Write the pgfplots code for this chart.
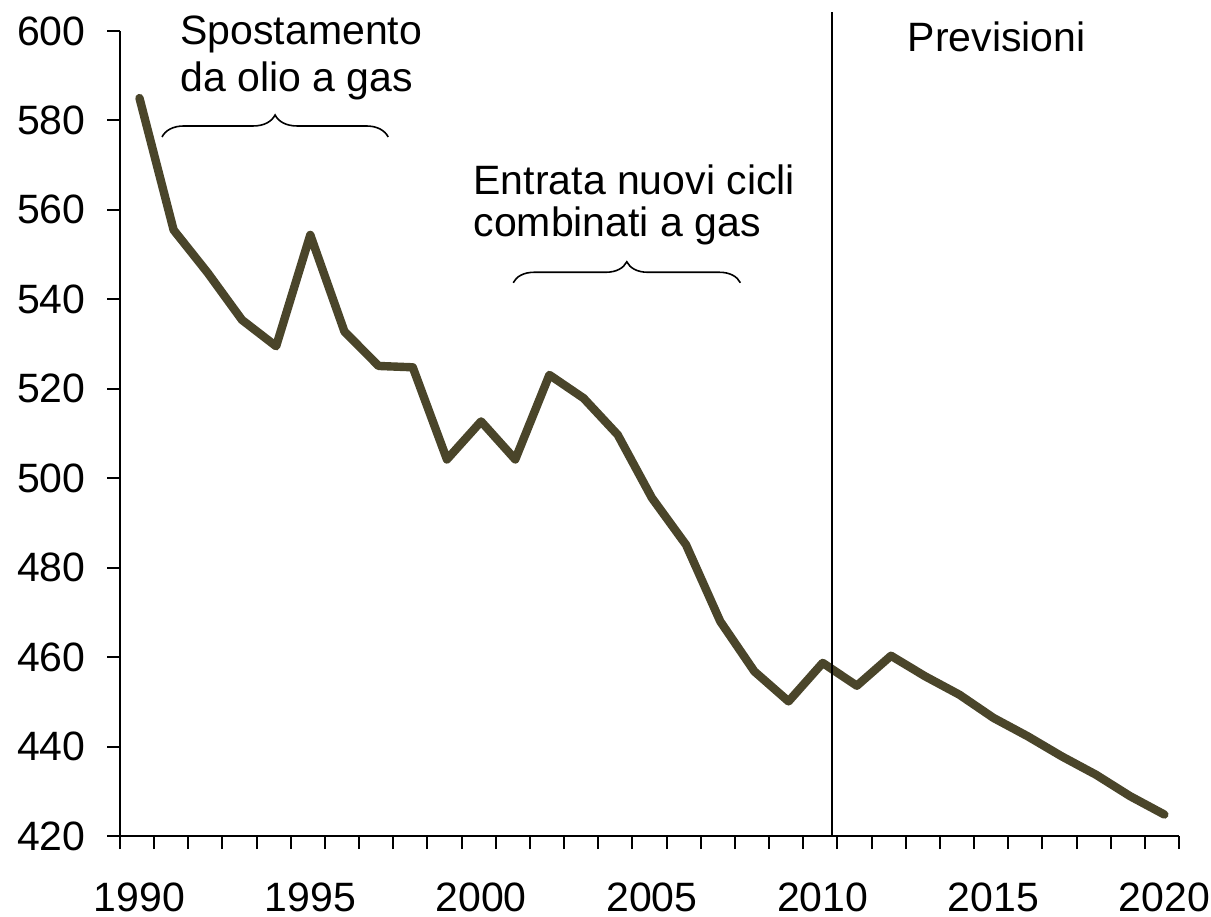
\documentclass[border=0pt]{standalone}
\usepackage{fontspec}
\setmainfont{Liberation Sans}
\usepackage{pgfplots}
\pgfplotsset{compat=1.18}
\usetikzlibrary{decorations.pathreplacing}
\definecolor{linebrown}{HTML}{4A452A}

\pgfplotstableread{
year value
1990 585.0
1991 555.5
1992 545.9
1993 535.4
1994 529.5
1995 554.4
1996 532.8
1997 525.1
1998 524.8
1999 504.2
2000 512.7
2001 504.2
2002 523.1
2003 517.9
2004 509.7
2005 495.6
2006 485.1
2007 468.0
2008 456.8
2009 450.1
2010 458.7
2011 453.6
2012 460.3
2013 455.7
2014 451.6
2015 446.4
2016 442.3
2017 437.8
2018 433.7
2019 428.9
2020 424.8
}\emissions

\newcommand{\bigfont}{\fontsize{20.5}{24.5}\selectfont}

\begin{document}
\begin{tikzpicture}
\begin{axis}[
    name=main,
    scale only axis,
    width=529.5pt,
    height=402.5pt,
    xmin=1989.43, xmax=2020.43,
    ymin=420, ymax=600,
    axis x line*=bottom,
    axis y line*=left,
    axis line style={line width=1pt},
    tick style={line width=1pt, black},
    tick align=outside,
    major tick length=6.5pt,
    xtick={1989.43,1990.43,...,2020.5},
    xticklabels={},
    extra x ticks={1990,1995,2000,2005,2010,2015,2020},
    extra x tick labels={1990,1995,2000,2005,2010,2015,2020},
    extra x tick style={tick style={draw=none}},
    ytick={420,440,...,600},
    /pgf/number format/assume math mode=true,
    ticklabel style={font=\bigfont, inner sep=0pt},
    xticklabel style={anchor=north, yshift=-16.5pt},
    yticklabel style={anchor=east, xshift=-10.5pt},
    clip=false,
]
\addplot[linebrown, line width=4.2pt, line join=round, line cap=round]
  table[x=year, y=value] {\emissions};

% forecast divider
\draw[black, line width=1pt] (axis cs:2010.27,420) -- (axis cs:2010.27,604.2);

% braces
\draw[black, line width=0.8pt, decorate, decoration={brace, amplitude=11pt}]
  (axis cs:1990.66,576.3) -- (axis cs:1997.28,576.3);
\draw[black, line width=0.8pt, decorate, decoration={brace, amplitude=10.5pt}]
  (axis cs:2000.94,543.7) -- (axis cs:2007.59,543.7);

% annotations
\node[font=\bigfont, anchor=base west, inner sep=0pt] at (axis cs:1991.19,596.87) {Spostamento};
\node[font=\bigfont, anchor=base west, inner sep=0pt] at (axis cs:1991.19,586.37) {da olio a gas};
\node[font=\bigfont, anchor=base west, inner sep=0pt] at (axis cs:1999.77,563.35) {Entrata nuovi cicli};
\node[font=\bigfont, anchor=base west, inner sep=0pt] at (axis cs:1999.77,553.97) {combinati a gas};
\node[font=\bigfont, anchor=base west, inner sep=0pt] at (axis cs:2012.48,595.31) {Previsioni};
\end{axis}
\pgfresetboundingbox
\path ([xshift=-60pt,yshift=-40.5pt]main.south west) rectangle ([xshift=16pt,yshift=15.5pt]main.north east);
\end{tikzpicture}
\end{document}
